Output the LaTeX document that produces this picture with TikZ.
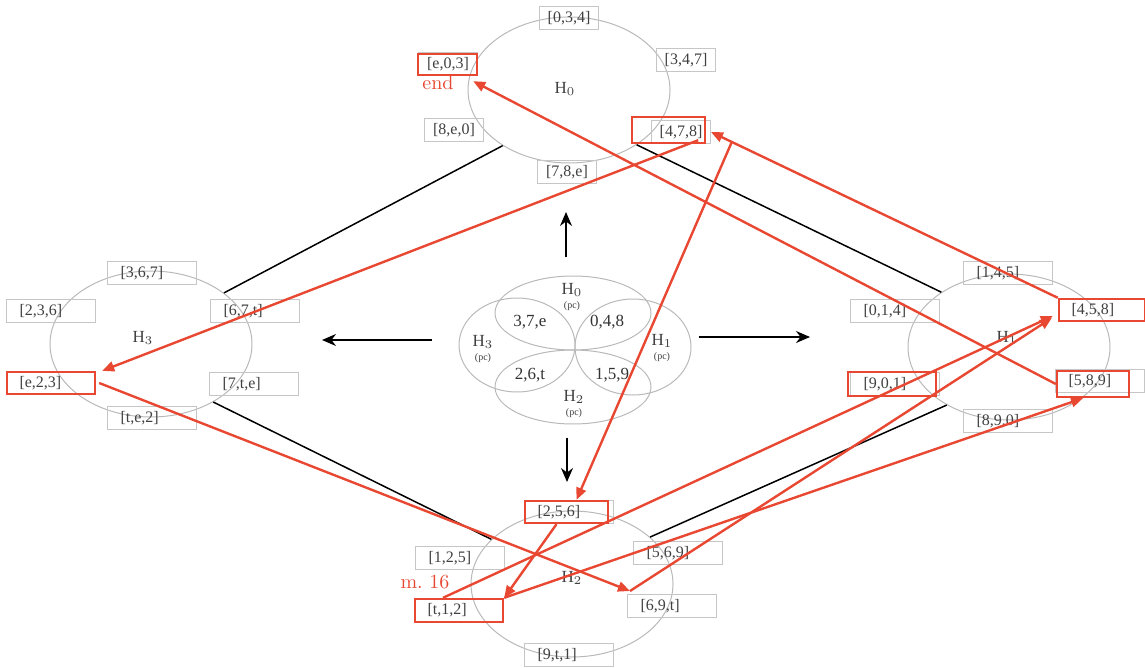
\documentclass[tikz,border=0pt]{standalone}
\usepackage{fontspec}
\setmainfont{Liberation Serif}
\usepackage{tikz}
\usetikzlibrary{calc,positioning,arrows.meta,shapes.geometric}
\definecolor{pathred}{RGB}{232,72,50}
\tikzstyle{cell}       = [rectangle, draw=gray!45, line width=0.5pt, minimum height=11.5pt, inner ysep=0, text=black!75, font=\fontsize{8}{9}\selectfont]
\tikzstyle{narrowcell} = [cell, minimum width=29.5pt, inner xsep=1pt, text centered]
\tikzstyle{widecell}   = [cell, text width=31.5pt, inner xsep=6.5pt, align=left]
\tikzstyle{hilite}     = [rectangle, draw=pathred, line width=1.2pt, inner sep=0]
\tikzstyle{hring}      = [ellipse, draw=gray!55, line width=0.5pt, minimum width=101pt, minimum height=73pt, inner sep=0]
\tikzstyle{ringlab}    = [text=black!75, font=\fontsize{8.5}{10}\selectfont]
\tikzstyle{petal}      = [ellipse, draw=gray!55, line width=0.5pt, inner sep=0]
\tikzstyle{settxt}     = [text=black!80, font=\fontsize{8.5}{10}\selectfont]
\tikzstyle{pclab}      = [text=black!75, align=center, font=\fontsize{8.5}{8}\selectfont]
\tikzstyle{redlab}     = [text=pathred, font=\fontfamily{lmr}\fontsize{10}{12}\selectfont]
\tikzstyle{link}       = [black, line width=0.75pt]
\tikzstyle{walk}       = [pathred, line width=1.2pt, -{Triangle[length=6pt,width=5pt]}]
\tikzstyle{arrow}      = [line width=0.75pt, -{Stealth[length=7pt,width=6pt]}]

\begin{document}
\begin{tikzpicture}[x=0.5pt,y=-0.5pt]
        \useasboundingbox (0,0) rectangle (1145,668);

        % rings
        \node (c0) [hring] at (569,90) {};
        \node (c3) [hring] at (151,344) {};
        \node (c1) [hring] at (1009,347) {};
        \node (c2) [hring] at (572,584) {};
        \node (c0lab) [ringlab] at (565,89) {H$_0$};
        \node (c3lab) [ringlab] at (143,338) {H$_3$};
        \node (c1lab) [ringlab] at (1007,338) {H$_1$};
        \node (c2lab) [ringlab] at (572,578) {H$_2$};

        % H0 cells
        \node (b034) [narrowcell] at (569,18) {[0,3,4]};
        \node (b347) [narrowcell] at (686,60) {[3,4,7]};
        \node (be03) [narrowcell] at (448,64) {[e,0,3]};
        \node (b8e0) [narrowcell] at (454,130) {[8,e,0]};
        \node (b478) [narrowcell] at (681,132) {[4,7,8]};
        \node (b78e) [narrowcell] at (567,172) {[7,8,e]};

        % H3 cells
        \node (b367) [widecell] at (152,273) {[3,6,7]};
        \node (b236) [widecell] at (51,311) {[2,3,6]};
        \node (b67t) [widecell] at (255,311) {[6,7,t]};
        \node (be23) [widecell] at (51,383) {[e,2,3]};
        \node (b7te) [widecell] at (254,384) {[7,t,e]};
        \node (bte2) [widecell] at (152,418) {[t,e,2]};

        % H1 cells
        \node (b145) [widecell] at (1008,273) {[1,4,5]};
        \node (b014) [widecell] at (895,311) {[0,1,4]};
        \node (b458) [widecell] at (1103,310) {[4,5,8]};
        \node (b901) [widecell] at (895,384) {[9,0,1]};
        \node (b589) [widecell] at (1100,381) {[5,8,9]};
        \node (b890) [widecell] at (1008,421) {[8,9,0]};

        % H2 cells
        \node (b256) [widecell] at (569,512) {[2,5,6]};
        \node (b125) [widecell] at (460,558) {[1,2,5]};
        \node (b569) [widecell] at (678,553) {[5,6,9]};
        \node (bt12) [widecell] at (459,610) {[t,1,2]};
        \node (b69t) [widecell] at (672,606) {[6,9,t]};
        \node (b9t1) [widecell] at (569,655) {[9,t,1]};

        % centre
        \node (p0) [petal, minimum width=78pt, minimum height=37pt] at (573,313) {};
        \node (p2) [petal, minimum width=78pt, minimum height=37pt] at (573,387) {};
        \node (p3) [petal, minimum width=58pt, minimum height=47pt] at (517,345) {};
        \node (p1) [petal, minimum width=58pt, minimum height=48pt] at (633,347) {};
        \node (s37e) [settxt] at (530,322) {3,7,e};
        \node (s048) [settxt] at (607,322) {0,4,8};
        \node (s26t) [settxt] at (530,375) {2,6,t};
        \node (s159) [settxt] at (612,375) {1,5,9};
        \node (p0lab) [pclab] at (572,297) {H$_0$\\[-1pt]{\tiny(pc)}};
        \node (p3lab) [pclab] at (483,349) {H$_3$\\[-1pt]{\tiny(pc)}};
        \node (p1lab) [pclab] at (662,348) {H$_1$\\[-1pt]{\tiny(pc)}};
        \node (p2lab) [pclab] at (574,404) {H$_2$\\[-1pt]{\tiny(pc)}};

        \coordinate (toH0) at (566,212);
        \coordinate (toH2) at (567,482);
        \coordinate (toH3) at (322,340);
        \coordinate (toH1) at (810,337);
        \draw [arrow] ([xshift=-3.5pt,yshift=9pt]p0.north) -- (toH0);
        \draw [arrow] ([xshift=-3pt,yshift=-6.5pt]p2.south) -- (toH2);
        \draw [arrow] ([xshift=-13.5pt,yshift=2.5pt]p3.west) -- (toH3);
        \draw [arrow] ([xshift=3.5pt,yshift=5pt]p1.east) -- (toH1);

        % links between rings
        \draw [link] (c0.220) -- (c3.35);
        \draw [link] (c0.321) -- (c1.141);
        \draw [link] (c3.317) -- (c2.151);
        \draw [link] (c1.223) -- (c2.31);

        % highlighted cells
        \node (re03) [hilite, minimum width=29.5pt, minimum height=10.5pt] at (447.5,64.5) {};
        \node (r478) [hilite, minimum width=36.5pt, minimum height=13pt] at (668.5,130) {};
        \node (re23) [hilite, minimum width=44pt, minimum height=11pt] at (51,383) {};
        \node (r901) [hilite, minimum width=44pt, minimum height=12pt] at (892,384) {};
        \node (r458) [hilite, minimum width=43pt, minimum height=11pt] at (1102,310) {};
        \node (r589) [hilite, minimum width=36pt, minimum height=13pt] at (1093,384) {};
        \node (r256) [hilite, minimum width=41.5pt, minimum height=11pt] at (566.5,512) {};
        \node (rt12) [hilite, minimum width=44pt, minimum height=11.5pt] at (459,610.5) {};
        \node (endlab) [redlab] at (438,83) {end};
        \node (m16lab) [redlab] at (425,582) {m.~16};

        % walk
        \draw [walk] ([xshift=-8pt]rt12.north) -- ([xshift=-2.5pt,yshift=-3pt]r458.west);
        \draw [walk] (r458.north west) -- (b478.east);
        \draw [walk] ([xshift=-4pt,yshift=2pt]r478.south east) -- ([xshift=3pt]re23.north east);
        \draw [walk] ([xshift=1.5pt]re23.east) -- ([xshift=1.5pt,yshift=1.5pt]b69t.north west);
        \draw [walk] ([xshift=1.5pt,yshift=1.5pt]b69t.north west) -- ([xshift=-3pt,yshift=-4pt]r458.west);
        \draw [walk] ($(r458.north west)!0.94!(b478.east)$) -- ([xshift=5pt]r256.north);
        \draw [walk] ([xshift=-5pt]r256.south) -- (rt12.north east);
        \draw [walk] (rt12.north east) -- ([xshift=-5pt]r589.south);
        \draw [walk] (r589.west) -- ([xshift=-2.5pt,yshift=-2.5pt]re03.south east);
    \end{tikzpicture}
\end{document}
